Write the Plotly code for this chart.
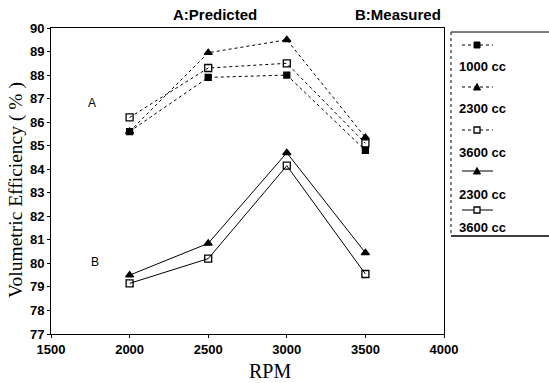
import plotly.graph_objects as go

rpm = [2000, 2500, 3000, 3500]
pred_1000 = [85.6, 87.9, 88.0, 84.8]
pred_2300 = [85.6, 88.95, 89.5, 85.35]
pred_3600 = [86.2, 88.3, 88.5, 85.1]
meas_2300 = [79.5, 80.85, 84.7, 80.45]
meas_3600 = [79.15, 80.2, 84.15, 79.55]
yticks = list(range(77, 91))
xticks = [1500, 2000, 2500, 3000, 3500, 4000]

W, H = 549, 383
L, R, T, B = 51, 105, 28, 49
PW, PH = W - L - R, H - T - B

def px(x):
    return (x - L) / PW

def py(y):
    return (H - B - y) / PH

fig = go.Figure()
series = [
    (pred_1000, "1000 cc", "dot", "square", "black", 6),
    (pred_2300, "2300 cc", "dot", "triangle-up", "black", 7),
    (pred_3600, "3600 cc", "dot", "square-open", "black", 7),
    (meas_2300, "2300 cc", "solid", "triangle-up", "black", 7),
    (meas_3600, "3600 cc", "solid", "square-open", "black", 7),
]
for ys, name, dash, sym, col, sz in series:
    fig.add_trace(go.Scatter(
        x=rpm, y=ys, name=name, mode="lines+markers",
        line=dict(color="black", width=1, dash=dash),
        marker=dict(symbol=sym, size=sz, color="black",
                    line=dict(color="black", width=1.3)),
        showlegend=False))

tickfont = dict(family="Liberation Sans", size=13, color="black", weight="bold")
fig.update_layout(
    width=W, height=H,
    margin=dict(l=L, r=R, t=T, b=B),
    paper_bgcolor="white", plot_bgcolor="white",
    xaxis=dict(range=[1500, 4000], tickvals=xticks, ticktext=[str(v) for v in xticks],
               showgrid=False, zeroline=False, showline=True, linecolor="black",
               linewidth=1, mirror=True, ticks="outside", ticklen=3, automargin=False,
               tickcolor="black", tickfont=tickfont),
    yaxis=dict(range=[77, 90], tickvals=yticks, ticktext=[str(v) for v in yticks],
               showgrid=False, zeroline=False, showline=True, linecolor="black",
               linewidth=1, mirror=True, ticks="outside", ticklen=3, automargin=False,
               tickcolor="black", tickfont=tickfont),
)

ann = []
def note(text, x, y, size, bold=True, xanchor="center", family="Liberation Sans", angle=0):
    ann.append(dict(text=text, x=px(x), y=py(y), xref="paper", yref="paper",
                    xanchor=xanchor, yanchor="middle", showarrow=False, textangle=angle,
                    font=dict(family=family, size=size, color="black",
                              weight="bold" if bold else "normal")))

note("A:Predicted", 215, 15, 15)
note("B:Measured", 398, 15, 15)
note("A", 92, 103, 12, bold=False)
note("B", 95, 262, 12, bold=False)
note("RPM", 270, 371, 20, bold=False, family="Liberation Serif")
note("Volumetric Efficiency ( % )", 16, 190, 19.5, bold=False, family="Liberation Serif", angle=-90)

shapes = []
bx0, bx1, by0, by1 = 451, 552, 32, 236
shapes.append(dict(type="line", xref="paper", yref="paper", x0=px(bx0), x1=px(bx1), y0=py(by0), y1=py(by0),
                   line=dict(color="black", width=1)))
shapes.append(dict(type="line", xref="paper", yref="paper", x0=px(bx0), x1=px(bx1), y0=py(by1), y1=py(by1),
                   line=dict(color="black", width=1.5)))
shapes.append(dict(type="line", xref="paper", yref="paper", x0=px(bx0), x1=px(bx0), y0=py(by0), y1=py(by1),
                   line=dict(color="black", width=1, dash="dot")))

sample_y = [45, 87, 130, 171, 210]
text_y = [66, 109, 152, 194, 227]
mx = 477
for i, (ys, name, dash, sym, col, sz) in enumerate(series):
    sy = sample_y[i]
    shapes.append(dict(type="line", xref="paper", yref="paper", x0=px(462), x1=px(493),
                       y0=py(sy), y1=py(sy), line=dict(color="black", width=1, dash=dash)))
    if sym == "square":
        shapes.append(dict(type="rect", xref="paper", yref="paper", x0=px(mx - 3), x1=px(mx + 3),
                           y0=py(sy + 3), y1=py(sy - 3), fillcolor="black", line=dict(color="black", width=1)))
    elif sym == "square-open":
        shapes.append(dict(type="rect", xref="paper", yref="paper", x0=px(mx - 3), x1=px(mx + 3),
                           y0=py(sy + 3), y1=py(sy - 3), fillcolor="white", line=dict(color="black", width=1.3)))
    else:
        path = "M {} {} L {} {} L {} {} Z".format(px(mx - 3.5), py(sy + 3), px(mx + 3.5), py(sy + 3),
                                                 px(mx), py(sy - 3.5))
        shapes.append(dict(type="path", xref="paper", yref="paper", path=path, fillcolor="black",
                           line=dict(color="black", width=1)))
    note(name, 457, text_y[i], 13, xanchor="left")

fig.update_layout(annotations=ann, shapes=shapes)
fig.write_html("out.html")
